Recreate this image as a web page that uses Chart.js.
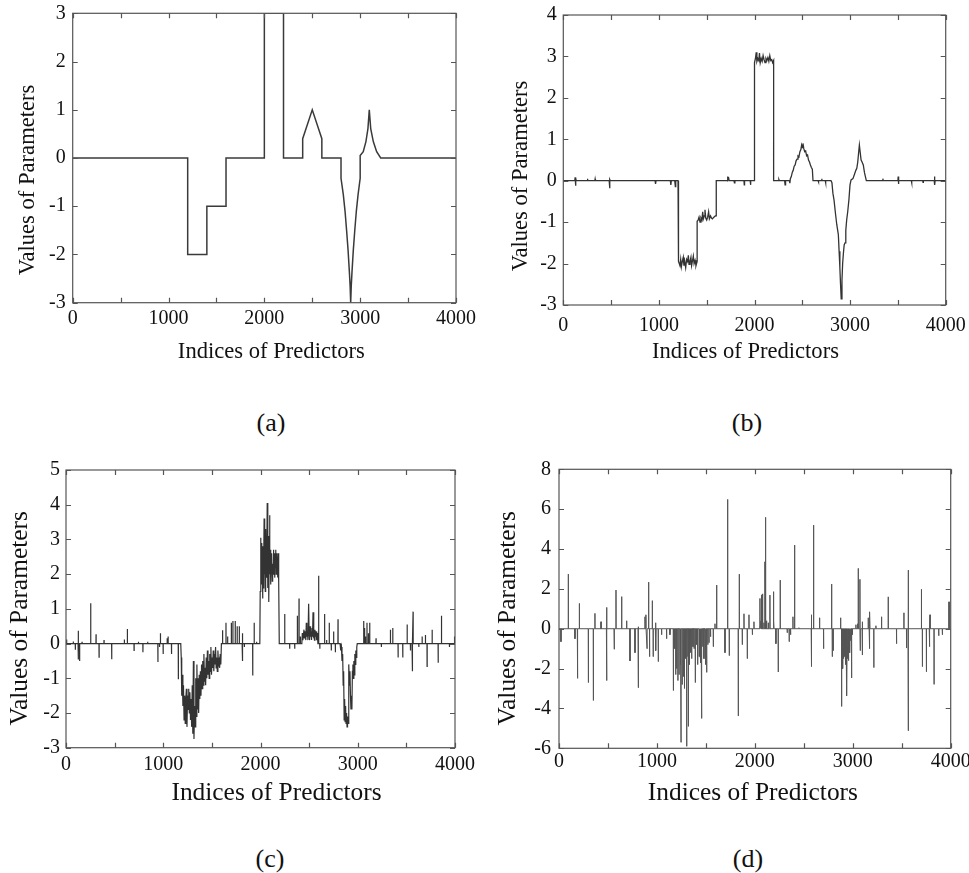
<!DOCTYPE html>
<html><head><meta charset="utf-8">
<script src="https://cdn.jsdelivr.net/npm/chart.js@4.4.1/dist/chart.umd.min.js"></script>
<style>
html,body{margin:0;padding:0;background:#fff;}
body{width:969px;height:873px;position:relative;overflow:hidden;font-family:"Liberation Serif","Times New Roman",serif;}
canvas{position:absolute;}
.cap{position:absolute;width:120px;text-align:center;font-size:26px;line-height:30px;color:#111;}
</style></head><body>
<canvas id="ca" width="480" height="370" style="left:0px;top:0px;width:480px;height:370px"></canvas>
<canvas id="cb" width="489" height="370" style="left:480px;top:0px;width:489px;height:370px"></canvas>
<canvas id="cc" width="480" height="400" style="left:0px;top:440px;width:480px;height:400px"></canvas>
<canvas id="cd" width="489" height="400" style="left:480px;top:440px;width:489px;height:400px"></canvas>
<div class="cap" style="left:211px;top:408px">(a)</div>
<div class="cap" style="left:687px;top:408px">(b)</div>
<div class="cap" style="left:210px;top:844px">(c)</div>
<div class="cap" style="left:688px;top:844px">(d)</div>
<script>
// ---------- data ----------
const xTickLabels = [0, 1000, 2000, 3000, 4000];
const xTickMarks = [0, 500, 1000, 1500, 2000, 2500, 3000, 3500, 4000];
const aYTicks = [-3, -2, -1, 0, 1, 2, 3];
const bYTicks = [-3, -2, -1, 0, 1, 2, 3, 4];
const cYTicks = [-3, -2, -1, 0, 1, 2, 3, 4, 5];
const dYTicks = [-6, -4, -2, 0, 2, 4, 6, 8];
const xTitle = "Indices of Predictors";
const yTitle = "Values of Parameters";

// (a) true parameters
const aIdx = [0, 1200, 1200, 1400, 1400, 1600, 1600, 2000, 2000, 2200,
  2200, 2400, 2400, 2425, 2500, 2575, 2600, 2600, 2800, 2800,
  2824, 2842, 2859, 2874, 2887, 2895, 2901, 2907, 2915, 2928,
  2943, 2960, 2978, 3000, 3000, 3032, 3060, 3081, 3095, 3110,
  3137, 3172, 3214, 4000];
const aVal = [0, 0, -2, -2, -1, -1, 0, 0, 3, 3,
  0, 0, 0.4, 0.55, 1.0, 0.55, 0.4, 0, 0, -0.42,
  -0.76, -1.1, -1.52, -1.92, -2.35, -2.65, -3.0, -2.65, -2.35, -1.92,
  -1.52, -1.1, -0.76, -0.42, 0.05, 0.13, 0.34, 0.61, 1.0, 0.61,
  0.34, 0.13, 0, 0];

// (b) estimate
const bIdx = [0, 120, 124, 128, 132, 136, 250, 253, 256, 330,
  333, 336, 480, 484, 488, 492, 960, 965, 970, 1120,
  1125, 1130, 1165, 1168, 1172, 1176, 1200, 1200, 1210, 1220,
  1228, 1235, 1245, 1255, 1262, 1270, 1280, 1290, 1300, 1308,
  1315, 1325, 1335, 1342, 1350, 1360, 1368, 1378, 1388, 1400,
  1400, 1410, 1420, 1430, 1440, 1450, 1458, 1465, 1475, 1482,
  1490, 1500, 1510, 1520, 1528, 1540, 1550, 1560, 1575, 1590,
  1600, 1600, 1715, 1718, 1722, 1730, 1735, 1785, 1790, 1795,
  1890, 1893, 1896, 1955, 1958, 1962, 2000, 2000, 2010, 2018,
  2025, 2035, 2045, 2052, 2060, 2070, 2080, 2090, 2100, 2110,
  2120, 2130, 2140, 2150, 2160, 2170, 2180, 2190, 2200, 2200,
  2250, 2255, 2260, 2315, 2320, 2325, 2365, 2370, 2375, 2385,
  2395, 2405, 2415, 2425, 2435, 2445, 2455, 2465, 2475, 2485,
  2493, 2500, 2507, 2515, 2525, 2535, 2545, 2555, 2565, 2575,
  2585, 2595, 2605, 2612, 2665, 2668, 2672, 2700, 2703, 2706,
  2740, 2743, 2746, 2800, 2810, 2820, 2832, 2845, 2860, 2877,
  2885, 2893, 2900, 2907, 2915, 2922, 2930, 2938, 2947, 2955,
  2964, 2975, 2988, 2999, 3010, 3030, 3045, 3060, 3070, 3080,
  3090, 3097, 3105, 3115, 3125, 3138, 3150, 3160, 3170, 3340,
  3343, 3346, 3500, 3503, 3506, 3509, 3640, 3643, 3646, 3760,
  3763, 3766, 3880, 3883, 3886, 3889, 4000];
const bVal = [0, 0, 0.08, -0.12, 0.05, 0, 0, 0.05, 0, 0,
  0.04, 0, 0, -0.18, 0.03, 0, 0, -0.08, 0, 0,
  -0.1, 0, 0, -0.05, -0.14, 0, 0, -1.82, -1.95, -2.05,
  -1.9, -2.08, -1.95, -1.85, -2.05, -1.95, -2.1, -1.9, -1.95, -1.8,
  -2.02, -1.95, -1.85, -2.05, -1.95, -1.82, -2.0, -1.92, -2.05, -1.95,
  -0.98, -0.95, -0.88, -1.0, -0.9, -0.95, -0.75, -0.92, -0.85, -0.7,
  -0.9, -0.95, -0.88, -0.75, -0.92, -0.85, -0.9, -0.92, -0.88, -0.85,
  -0.85, 0, 0, 0.1, 0.02, 0.06, 0, 0, -0.05, 0,
  0, -0.1, 0, 0, -0.1, 0, 0, 2.85, 2.95, 3.1,
  2.88, 2.95, 2.9, 3.08, 2.85, 2.95, 2.88, 3.02, 2.92, 2.85,
  2.95, 2.9, 2.97, 2.88, 3.02, 2.9, 2.92, 2.85, 2.9, 0,
  0, 0.03, 0, 0, -0.1, 0, 0, -0.06, 0.05, 0.1,
  0.2, 0.25, 0.35, 0.38, 0.48, 0.52, 0.6, 0.58, 0.7, 0.75,
  0.86, 0.8, 0.9, 0.78, 0.7, 0.72, 0.6, 0.62, 0.5, 0.45,
  0.38, 0.32, 0.28, 0, 0, -0.03, 0, 0, 0.05, 0,
  0, -0.05, 0, 0, -0.05, -0.3, -0.47, -0.75, -1.05, -1.3,
  -1.7, -2.1, -2.5, -2.85, -2.4, -2.0, -1.75, -1.55, -1.5, -1.2,
  -0.95, -0.75, -0.45, -0.1, 0.02, 0.05, 0.15, 0.25, 0.3, 0.45,
  0.7, 0.86, 0.7, 0.5, 0.45, 0.38, 0.2, 0.1, 0, 0,
  0.05, 0, 0, 0.1, -0.08, 0, 0, -0.05, 0, 0,
  -0.04, 0, 0, 0.1, -0.1, 0, 0];

// (c) isolated nonzero coefficients
const cSpikeIdx = [7, 75, 96, 125, 128, 140, 165, 254, 309, 340,
  391, 470, 600, 631, 700, 745, 791, 840, 945, 962,
  971, 999, 1040, 1050, 1085, 1155, 1610, 1645, 1662, 1700,
  1716, 1740, 1760, 1782, 1812, 1817, 1834, 1920, 1935, 1960,
  2249, 2300, 2352, 2379, 2396, 2410, 2598, 2610, 2659, 2680,
  2707, 2728, 2752, 2770, 2797, 3061, 3070, 3080, 3095, 3110,
  3123, 3188, 3243, 3336, 3360, 3415, 3463, 3508, 3542, 3559,
  3569, 3628, 3662, 3696, 3713, 3765, 3827, 3861, 3943, 3995];
const cSpikeVal = [0.12, 0.06, -0.18, 0.37, -0.46, -0.5, 0.05, 1.16, 0.27, -0.39,
  0.1, -0.45, 0.12, 0.42, -0.2, 0.05, -0.25, 0.05, -0.53, -0.1,
  0.3, -0.3, 0.15, 0.2, -0.3, -1.03, 0.38, 0.6, 0.2, 0.6,
  0.65, 0.65, 0.5, 0.5, -0.5, 0.3, -0.1, -0.92, 0.6, 0.05,
  0.85, -0.15, -0.15, 0.8, 1.3, 0.2, 1.95, -0.15, 0.85, 0.1,
  0.6, -0.2, 0.35, -0.25, 0.7, 0.65, 0.45, 0.2, 0.6, 0.3,
  0.6, 0.15, -0.1, 0.4, 0.45, -0.4, -0.4, 0.55, -0.2, -0.8,
  0.92, -0.1, 0.2, 0.25, -0.66, 0.4, -0.55, 0.8, -0.1, 0.2];
// (c) consecutive runs of nonzero coefficients
const cRun1Idx = [1180, 1185, 1190, 1196, 1202, 1208, 1214, 1220, 1226, 1232,
  1238, 1244, 1250, 1256, 1262, 1268, 1274, 1280, 1286, 1292,
  1298, 1304, 1310, 1316, 1322, 1328, 1334, 1340, 1346, 1352,
  1358, 1364, 1370, 1376, 1382, 1388, 1394, 1400, 1406, 1412,
  1418, 1424, 1430, 1436, 1442, 1448, 1454, 1460, 1466, 1472,
  1478, 1484, 1490, 1496, 1502, 1508, 1514, 1520, 1526, 1532,
  1538, 1544, 1550, 1556, 1562, 1568, 1574, 1580, 1586, 1592, 1598];
const cRun1Val = [0, -0.4, -1.5, -0.9, -1.8, -1.2, -2.2, -1.5, -2.3, -1.6,
  -1.3, -2.4, -1.5, -1.9, -1.3, -2.0, -1.4, -2.2, -1.6, -2.4,
  -1.2, -2.6, -0.5, -2.75, -1.8, -2.4, -1.0, -2.1, -0.6, -1.9,
  -1.0, -2.0, -0.9, -1.6, -0.8, -1.5, -0.6, -1.3, -0.5, -1.2,
  -0.3, -1.1, -0.7, -1.2, -0.4, -1.0, -0.2, -0.9, -0.5, -1.0,
  -0.3, -0.8, -0.1, -0.9, -0.4, -0.7, -0.2, -0.8, -0.3, -0.6,
  -0.1, -0.7, -0.4, -0.8, -0.2, -0.6, -0.5, -0.7, -0.3, -0.6, 0];
const cRun2Idx = [1993, 1997, 2001, 2005, 2009, 2013, 2017, 2021, 2025, 2029,
  2033, 2037, 2041, 2045, 2049, 2053, 2057, 2061, 2065, 2069,
  2073, 2077, 2081, 2085, 2089, 2093, 2097, 2101, 2105, 2109,
  2113, 2117, 2121, 2125, 2129, 2133, 2137, 2141, 2145, 2149,
  2153, 2157, 2161, 2165, 2169, 2173, 2177, 2181, 2185, 2189, 2193];
const cRun2Val = [0, 1.5, 3.05, 2.3, 2.9, 1.7, 2.6, 1.3, 2.8, 1.6,
  2.4, 3.6, 2.0, 2.8, 1.5, 3.3, 2.2, 2.9, 1.9, 4.05,
  2.5, 1.6, 3.1, 1.2, 2.4, 3.7, 2.0, 2.7, 1.7, 2.4,
  2.0, 2.6, 1.8, 2.3, 2.0, 2.7, 2.1, 2.5, 1.9, 2.6,
  2.2, 2.7, 2.0, 2.6, 2.1, 2.5, 1.9, 2.6, 2.3, 1.8, 0];
const cRun3Idx = [2425, 2430, 2436, 2447, 2452, 2460, 2466, 2471, 2477, 2482,
  2488, 2495, 2500, 2505, 2510, 2515, 2520, 2525, 2530, 2535,
  2540, 2545, 2550, 2555, 2560, 2565, 2572, 2578, 2585, 2590];
const cRun3Val = [0, 0.3, 0.1, 0.4, 0.15, 0.35, 0.1, 0.6, 0.2, 0.35,
  0.1, 1.15, 0.3, 0.1, 0.5, 0.2, 0.35, 0.1, 0.45, 0.2,
  0.9, 0.15, 0.3, 0.1, 0.4, 0.2, 0.35, 0.1, 0.3, 0];
const cRun4Idx = [2818, 2825, 2832, 2838, 2845, 2850, 2855, 2860, 2865, 2870,
  2875, 2880, 2885, 2890, 2895, 2900, 2905, 2910, 2915, 2920,
  2925, 2930, 2935, 2940, 2945, 2950, 2955, 2960, 2965, 2970,
  2975, 2980, 2985, 2990, 2995];
const cRun4Val = [0, -0.2, -0.1, -0.5, -0.3, -1.2, -0.8, -2.2, -1.6, -2.25,
  -1.8, -2.3, -2.0, -2.4, -2.1, -2.3, -1.5, -0.6, -1.2, -0.8,
  -1.5, -1.9, -1.7, -1.9, -0.8, -0.6, -1.0, -0.5, -0.9, -0.3,
  -0.6, -0.2, -0.4, -0.1, 0];

// (d) nonzero coefficients
const dSpikeIdx = [20, 95, 163, 188, 191, 208, 300, 351, 367, 429,
  485, 489, 563, 566, 582, 640, 691, 725, 776, 808,
  812, 878, 888, 899, 912, 918, 925, 953, 962, 985,
  990, 1014, 1048, 1099, 1133, 1168, 1180, 1192, 1202, 1214,
  1226, 1238, 1246, 1258, 1270, 1281, 1292, 1304, 1316, 1321,
  1332, 1344, 1355, 1368, 1380, 1392, 1404, 1416, 1430, 1440,
  1450, 1457, 1468, 1480, 1492, 1500, 1508, 1520, 1532, 1548,
  1576, 1593, 1610, 1695, 1722, 1739, 1831, 1841, 1872, 1889,
  1923, 1940, 1975, 1991, 2052, 2063, 2069, 2079, 2093, 2103,
  2110, 2120, 2137, 2154, 2188, 2195, 2215, 2239, 2259, 2331,
  2351, 2365, 2389, 2406, 2450, 2576, 2580, 2600, 2661, 2702,
  2784, 2791, 2801, 2876, 2886, 2893, 2900, 2906, 2913, 2920,
  2926, 2933, 2941, 2948, 2955, 2962, 2971, 2980, 2988, 2996,
  3032, 3050, 3056, 3073, 3077, 3096, 3100, 3158, 3168, 3175,
  3215, 3236, 3294, 3362, 3447, 3522, 3549, 3565, 3569, 3701,
  3711, 3752, 3782, 3789, 3830, 3878, 3915, 3983];
const dSpikeVal = [-0.65, 2.74, -0.5, -1.0, -2.49, 1.27, -2.7, -3.6, 0.77, 0.35,
  1.07, -2.6, -0.5, -1.03, 1.94, 1.61, 0.4, -1.62, -1.2, 0.1,
  -2.96, 0.6, 0.7, -1.0, 2.34, 1.2, -1.4, 1.41, -1.4, 0.3,
  -1.1, -1.65, -0.3, -0.5, -0.3, -3.1, -1.0, -2.3, -2.0, -2.6,
  -2.3, -1.8, -5.7, -2.8, -2.4, -3.0, -1.5, -5.9, -1.4, -4.9,
  -1.8, -1.2, -1.5, -0.9, -1.0, -2.7, -0.8, -1.8, -1.4, -1.1,
  -1.7, -4.5, -0.9, -1.5, -0.7, -1.8, -2.19, -0.8, -0.7, -0.4,
  -0.9, 0.25, 2.19, -1.2, 6.49, -1.35, -4.38, 2.74, -0.8, 0.75,
  -1.5, 0.7, -0.3, 0.35, 1.52, 0.4, 1.7, 1.75, 0.3, 3.36,
  5.59, 0.4, 0.3, 1.69, 1.86, 0.4, -0.75, -2.17, 2.44, -0.2,
  -0.65, -0.3, 0.6, 4.2, 0.05, 0.7, -1.9, 5.2, 0.55, -1.0,
  2.24, -1.4, -1.1, 0.55, -3.9, -1.8, -2.0, -1.5, -1.4, -1.2,
  -1.8, -1.0, -3.37, -1.5, -1.6, -1.0, -1.2, -0.6, -2.47, -0.3,
  0.2, 0.25, 3.03, 2.48, -1.1, 0.35, -1.32, 0.55, -1.0, 0.85,
  -1.95, 0.15, 0.6, 1.6, -0.75, 0.8, -0.97, 2.94, -5.12, 1.98,
  -1.9, -2.16, -0.9, 0.7, -2.79, -0.35, -0.3, 1.35];

// ---------- helpers ----------
function densePoints(idx, val) {
  return idx.map((x, k) => ({x: x, y: val[k]}));
}
// a sparse coefficient vector: every index not listed is zero
function sparsePoints(idx, val, runs) {
  const pts = [{x: 0, y: 0}];
  idx.forEach((i, k) => { pts.push({x: i - 1, y: 0}, {x: i, y: val[k]}, {x: i + 1, y: 0}); });
  runs.forEach(r => r[0].forEach((i, k) => pts.push({x: i, y: r[1][k]})));
  pts.push({x: 4000, y: 0});
  pts.sort((p, q) => p.x - q.x);
  return pts;
}

function shiftTitle(scale, dx, dy) {
  if (!scale || scale._titleShifted) return;
  const orig = scale.drawTitle;
  scale.drawTitle = function () {
    const c = this.ctx;
    c.save(); c.translate(dx, dy); orig.call(this); c.restore();
  };
  scale._titleShifted = true;
}

const framePlugin = {
  id: 'frame',
  beforeDraw(chart, args, o) {
    // axis titles sit slightly off-centre in the reference figure
    shiftTitle(chart.scales.y, 0, o.yTitleShift);
    shiftTitle(chart.scales.x, o.xTitleShift, 0);
  },
  afterDatasetsDraw(chart, args, o) {
    const {ctx, chartArea: {left, right, top, bottom}, scales: {x, y}} = chart;
    ctx.save();
    ctx.strokeStyle = o.color;
    ctx.lineWidth = o.width;
    ctx.strokeRect(left, top, right - left, bottom - top);
    ctx.beginPath();
    o.xMarks.forEach(v => {
      const px = Math.round(x.getPixelForValue(v)) + 0.5;
      ctx.moveTo(px, bottom); ctx.lineTo(px, bottom - o.len);
      ctx.moveTo(px, top); ctx.lineTo(px, top + o.len);
    });
    o.yMarks.forEach(v => {
      const py = Math.round(y.getPixelForValue(v)) + 0.5;
      ctx.moveTo(left, py); ctx.lineTo(left + o.len, py);
      ctx.moveTo(right, py); ctx.lineTo(right - o.len, py);
    });
    ctx.stroke();
    ctx.restore();
  }
};

const fam = '"Liberation Serif", "Times New Roman", serif';
const charts = [];
function makePanel(id, points, yTicks, L) {
  charts.push(new Chart(document.getElementById(id), {
    type: 'line',
    data: {datasets: [{
      data: points,
      borderColor: L.lineColor,
      borderWidth: L.lineWidth,
      pointRadius: 0,
      tension: 0,
      fill: false
    }]},
    options: {
      responsive: false,
      animation: false,
      events: [],
      layout: {padding: L.pad},
      plugins: {
        legend: {display: false},
        tooltip: {enabled: false},
        frame: {color: '#555', width: 1.2, len: 5, xMarks: xTickMarks, yMarks: yTicks,
                yTitleShift: L.ytShift, xTitleShift: L.xtShift}
      },
      scales: {
        x: {
          type: 'linear', min: 0, max: 4000,
          afterBuildTicks: s => { s.ticks = xTickLabels.map(v => ({value: v})); },
          afterFit: s => { s.height = L.xH; s.paddingLeft = 0; s.paddingRight = 0; },
          ticks: {autoSkip: false, maxRotation: 0, padding: L.xPad, color: '#111',
                  font: {family: fam, size: 20}, callback: v => String(v)},
          grid: {display: false, drawTicks: false},
          border: {display: false},
          title: {display: true, text: xTitle, color: '#111',
                  font: {family: fam, size: L.tSize}, padding: {top: 0, bottom: L.xtPad}}
        },
        y: {
          type: 'linear', min: yTicks[0], max: yTicks[yTicks.length - 1],
          afterBuildTicks: s => { s.ticks = yTicks.map(v => ({value: v})); },
          afterFit: s => { s.width = L.yW; s.paddingTop = 0; s.paddingBottom = 0; },
          ticks: {autoSkip: false, padding: L.yPad, color: '#111',
                  font: {family: fam, size: 20}, callback: v => String(v)},
          grid: {display: false, drawTicks: false},
          border: {display: false},
          title: {display: true, text: yTitle, color: '#111',
                  font: {family: fam, size: L.tSize}, padding: {top: L.ytPad, bottom: 0}}
        }
      }
    },
    plugins: [framePlugin]
  }));
}

makePanel('ca', densePoints(aIdx, aVal), aYTicks,
  {pad: {left: 0, top: 13.3, right: 24, bottom: 0}, xH: 67.3, yW: 72.7,
   xPad: 4.5, yPad: 7, tSize: 22.6, xtPad: 4.4, ytPad: 14.5, ytShift: 22, xtShift: 7,
   lineColor: '#3a3a3a', lineWidth: 1.5});
makePanel('cb', densePoints(bIdx, bVal), bYTicks,
  {pad: {left: 0, top: 15, right: 23.3, bottom: 0}, xH: 65, yW: 83.3,
   xPad: 8.4, yPad: 6.5, tSize: 22.6, xtPad: 4.4, ytPad: 27.8, ytShift: 16, xtShift: -9,
   lineColor: '#333', lineWidth: 1.3});
makePanel('cc', sparsePoints(cSpikeIdx, cSpikeVal,
    [[cRun1Idx, cRun1Val], [cRun2Idx, cRun2Val], [cRun3Idx, cRun3Val], [cRun4Idx, cRun4Val]]), cYTicks,
  {pad: {left: 0, top: 30, right: 25, bottom: 0}, xH: 92.3, yW: 66,
   xPad: 5, yPad: 6, tSize: 25.4, xtPad: 31, ytPad: 5.3, ytShift: 9.5, xtShift: 16,
   lineColor: '#333', lineWidth: 1.2});
makePanel('cd', sparsePoints(dSpikeIdx, dSpikeVal, []), dYTicks,
  {pad: {left: 0, top: 29.3, right: 18.3, bottom: 0}, xH: 91.7, yW: 79,
   xPad: 1, yPad: 8, tSize: 25.4, xtPad: 31.7, ytPad: 12.9, ytShift: 9.5, xtShift: -2,
   lineColor: '#555', lineWidth: 1.0});

// redraw once fonts are settled
function redraw() { charts.forEach(c => c.draw()); }
document.fonts.ready.then(redraw);
window.addEventListener('load', redraw);
</script>
</body></html>
